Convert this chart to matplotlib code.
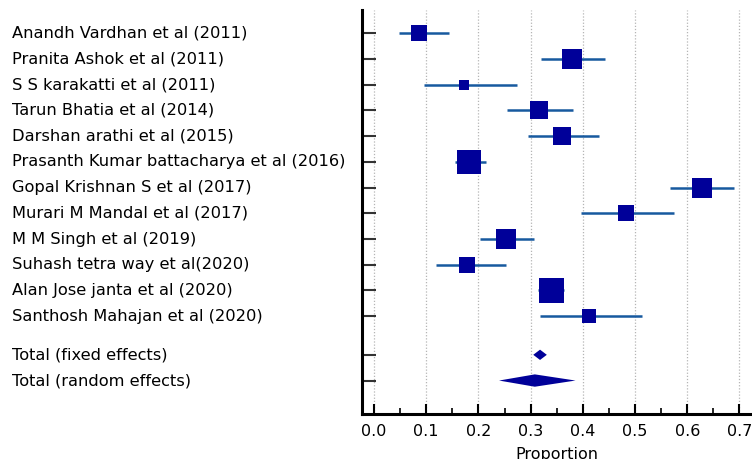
import numpy as np
import matplotlib.pyplot as plt
from matplotlib.transforms import blended_transform_factory

plt.rcParams['font.family'] = ['DejaVu Sans']

# Study level proportions with 95% CI and relative weights (%)
studies = ["Anandh Vardhan et al (2011)", "Pranita Ashok et al (2011)",
           "S S karakatti et al (2011)", "Tarun Bhatia et al (2014)",
           "Darshan arathi et al (2015)", "Prasanth Kumar battacharya et al (2016)",
           "Gopal Krishnan S et al (2017)", "Murari M Mandal et al (2017)",
           "M M Singh et al (2019)", "Suhash tetra way et al(2020)",
           "Alan Jose janta et al (2020)", "Santhosh Mahajan et al (2020)"]
prop = [0.086, 0.379, 0.172, 0.316, 0.360, 0.181, 0.629, 0.483, 0.252, 0.178, 0.339, 0.411]
lower = [0.047, 0.320, 0.095, 0.255, 0.294, 0.155, 0.566, 0.397, 0.203, 0.119, 0.315, 0.317]
upper = [0.144, 0.442, 0.274, 0.381, 0.430, 0.215, 0.690, 0.574, 0.307, 0.252, 0.364, 0.514]
weights = [6.2, 10.0, 2.7, 8.2, 8.2, 12.7, 10.0, 6.2, 10.0, 6.2, 14.6, 4.8]

pooled_labels = ["Total (fixed effects)", "Total (random effects)"]
pooled_est = [0.318, 0.308]
pooled_lo = [0.305, 0.2395]
pooled_hi = [0.331, 0.386]

fig = plt.figure(figsize=(7.52, 4.59), dpi=100)
ax = fig.add_axes([362 / 752, 1 - 414 / 459, 1 - 362 / 752, (414 - 10) / 459])

ys = np.arange(len(studies))
ys_pool = [len(studies) + 0.5, len(studies) + 1.5]

line_col = '#17599f'
box_col = '#000099'

# confidence interval lines with weight-scaled squares
for y, p, lo, hi, w in zip(ys, prop, lower, upper, weights):
    ax.plot([lo, hi], [y, y], color=line_col, lw=1.8, solid_capstyle='butt', zorder=3)
    side = 25 * np.sqrt(w / max(weights)) * 0.72
    ax.plot(p, y, marker='s', ms=side, color=box_col, mec=box_col, mew=0, zorder=4)

# pooled estimates as diamonds
for y, est, lo, hi, h in zip(ys_pool, pooled_est, pooled_lo, pooled_hi, [0.2, 0.24]):
    ax.fill([lo, est, hi, est], [y, y - h, y, y + h], color=box_col, zorder=4, lw=0)

ax.set_xlim(-0.023, 0.724)
ax.set_ylim(len(studies) + 2.8, -0.9)

ax.set_xticks(np.arange(0, 0.71, 0.1))
ax.set_xticklabels([f"{v:.1f}" for v in np.arange(0, 0.71, 0.1)], fontsize=11.5)
ax.set_xticks(np.arange(0.05, 0.71, 0.1), minor=True)
ax.tick_params(axis='x', which='major', direction='in', length=7, width=1.5, pad=7)
ax.tick_params(axis='x', which='minor', direction='in', length=4, width=1.2)
ax.set_xlabel("Proportion", fontsize=11.5, labelpad=6)

ax.set_yticks(list(ys) + ys_pool)
ax.set_yticklabels([])
ax.tick_params(axis='y', direction='in', length=10, width=1.5, color='#333333')

for x in np.arange(0, 0.71, 0.1):
    ax.axvline(x, color='#b5b5b5', lw=0.9, ls=(0, (1, 1.5)), zorder=1)

for s in ['top', 'right']:
    ax.spines[s].set_visible(False)
ax.spines['left'].set_linewidth(2.2)
ax.spines['bottom'].set_linewidth(2.2)

trans = blended_transform_factory(fig.transFigure, ax.transData)
for y, name in zip(list(ys) + ys_pool, studies + pooled_labels):
    ax.text(12 / 752, y, name, transform=trans, ha='left', va='center',
            fontsize=11.7, clip_on=False)

fig.savefig('out.png', dpi=100)
